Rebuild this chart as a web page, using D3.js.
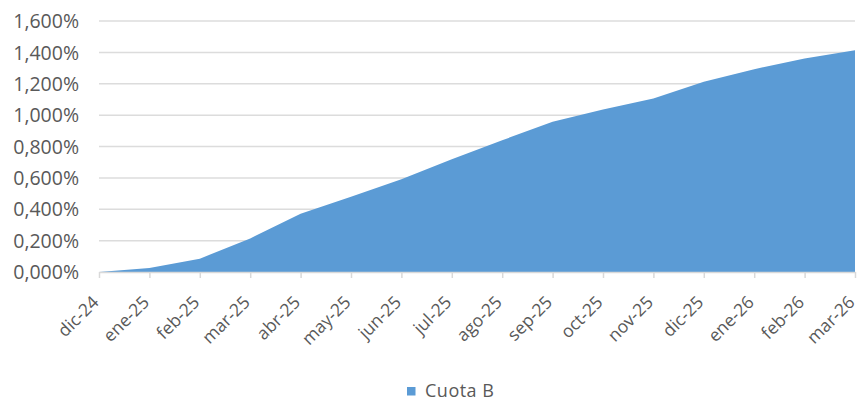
<!DOCTYPE html>
<html>
<head>
<meta charset="utf-8">
<script src="https://cdn.jsdelivr.net/npm/d3@7"></script>
<style>
  html, body { margin: 0; padding: 0; background: #fff; }
  svg { display: block; font-family: "Open Sans", sans-serif; }
</style>
</head>
<body>
<svg id="chart" width="858" height="400"></svg>
<script>
// Monthly categories along the x axis
const months = ["dic-24","ene-25","feb-25","mar-25","abr-25","may-25","jun-25","jul-25",
                "ago-25","sep-25","oct-25","nov-25","dic-25","ene-26","feb-26","mar-26"];
// Cumulative share, in percent
const cuotaB = [0, 0.025, 0.085, 0.214, 0.372, 0.48, 0.592, 0.718,
                0.84, 0.957, 1.036, 1.106, 1.212, 1.293, 1.361, 1.414];
// Y axis ticks, in percent
const yTicks = [0, 0.2, 0.4, 0.6, 0.8, 1.0, 1.2, 1.4, 1.6];
const seriesName = "Cuota B";

const svg = d3.select("#chart");
const margin = { left: 99, right: 3, top: 21, bottom: 128 };
const W = 858, H = 400;
const textColor = "#595959";
const fill = "#5B9BD5";

const x = d3.scalePoint().domain(months).range([margin.left, W - margin.right]);
const y = d3.scaleLinear().domain([0, 1.6]).range([H - margin.bottom, margin.top]);

// Percent with three decimals and a comma as decimal separator
const fmt = v => d3.format(".3f")(v).replace(".", ",") + "%";

// Horizontal gridlines
svg.append("g")
  .selectAll("line")
  .data(yTicks.filter(d => d > 0))
  .join("line")
  .attr("x1", margin.left).attr("x2", W - margin.right)
  .attr("y1", d => y(d)).attr("y2", d => y(d))
  .attr("stroke", "#dcdcdc").attr("stroke-width", 1.5);

// Filled area
const area = d3.area()
  .x((d, i) => x(months[i]))
  .y0(y(0))
  .y1(d => y(d));

svg.append("path")
  .datum(cuotaB)
  .attr("d", area)
  .attr("fill", fill);

// Y axis labels
const yAxis = d3.axisLeft(y).tickValues(yTicks).tickFormat(fmt).tickSize(0).tickPadding(0);
const gy = svg.append("g").attr("transform", `translate(${margin.left - 20},0)`).call(yAxis);
gy.select(".domain").remove();
gy.selectAll("text").attr("fill", textColor).style("font-size", "19.5px")
  .style("font-family", "'Open Sans', sans-serif").attr("dy", "0.34em");

// X axis line with category ticks
const xAxis = d3.axisBottom(x).tickSizeInner(6).tickSizeOuter(0).tickPadding(4);
const gx = svg.append("g").attr("transform", `translate(0,${y(0)})`).call(xAxis);
gx.select(".domain").attr("stroke", "#d9d9d9").attr("stroke-width", 1.5);
gx.selectAll(".tick line").attr("stroke", "#d9d9d9").attr("stroke-width", 1.5);
gx.selectAll("text")
  .attr("fill", textColor)
  .style("font-size", "17.5px")
  .style("font-family", "'Open Sans', sans-serif")
  .attr("text-anchor", "end")
  .attr("transform", "translate(-4,27) rotate(-45)")
  .attr("dy", "0.35em")
  .attr("y", 0).attr("x", 0);

// Legend
const legend = svg.append("g").attr("transform", "translate(407,387)");
legend.append("rect").attr("width", 8.5).attr("height", 8.5).attr("fill", fill);
legend.append("text").attr("x", 18).attr("y", 9.5)
  .attr("fill", textColor).style("font-size", "18px")
  .style("letter-spacing", "0.5px").text(seriesName);
</script>
</body>
</html>
